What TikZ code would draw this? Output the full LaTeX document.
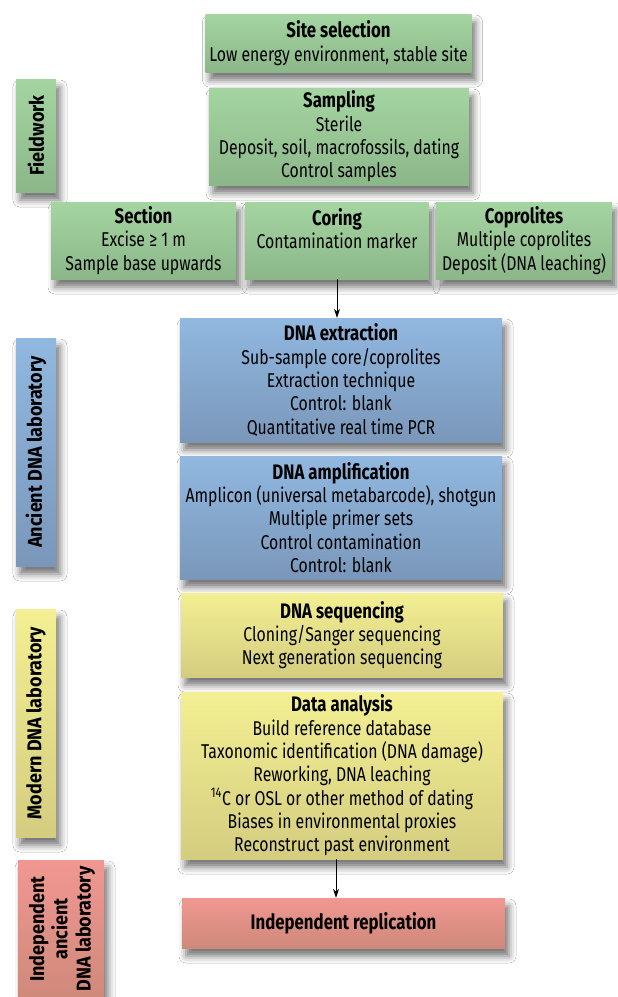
\documentclass[tikz,border=0pt]{standalone}
\usepackage{fontspec}
\setmainfont{Fira Sans}[FakeStretch=0.79]
\newfontfamily\titlefont{Fira Sans}[FakeStretch=0.8]
\newfontfamily\sidefont{Fira Sans}[FakeStretch=0.9]
\usetikzlibrary{shadows.blur,arrows.meta}
\definecolor{gtop}{RGB}{164,213,161}
\definecolor{gbot}{RGB}{140,183,137}
\definecolor{btop}{RGB}{145,184,224}
\definecolor{bbot}{RGB}{122,151,186}
\definecolor{ytop}{RGB}{243,239,146}
\definecolor{ybot}{RGB}{212,205,128}
\definecolor{rtop}{RGB}{241,151,146}
\definecolor{rbot}{RGB}{206,137,121}
\newcommand\boxtitle[1]{{\titlefont\bfseries\fontsize{21}{23.3}\selectfont #1}}
\begin{document}
\begin{tikzpicture}[x=1pt,y=-1pt,
  box/.style={inner sep=0pt, align=center,
    font=\fontsize{20}{23.3}\selectfont,
    blur shadow={shadow xshift=4pt, shadow yshift=-8pt, shadow blur radius=7pt, shadow opacity=55}},
  gbox/.style={box, top color=gtop, bottom color=gbot},
  bbox/.style={box, top color=btop, bottom color=bbot},
  ybox/.style={box, top color=ytop, bottom color=ybot},
  rbox/.style={box, top color=rtop, bottom color=rbot},
  side/.style={rotate=90, font=\sidefont\bfseries\fontsize{20}{23.3}\selectfont, align=center, inner sep=0pt},
  txt/.style={inner sep=0pt, align=center, font=\fontsize{20}{23.3}\selectfont},
  arr/.style={line width=0.9pt, -{Stealth[length=9pt,width=6pt]}}
]
\useasboundingbox[fill=white] (0,0) rectangle (618,997);

% Fieldwork
\node[gbox, minimum width=266pt, minimum height=58pt] (site) at (338.5,43) {\boxtitle{Site selection}\\Low energy environment, stable site};
\node[gbox, minimum width=260pt, minimum height=97pt] (sampling) at (339,136.5) {\boxtitle{Sampling}\\Sterile\\Deposit, soil, macrofossils, dating\\Control samples};
\node[gbox, minimum width=40pt, minimum height=113pt] (fieldwork) at (36,135.5) {};
\node[side] (fieldworktxt) at (fieldwork.center) {Fieldwork};
\node[gbox, minimum width=185pt, minimum height=77pt] (section) at (143.5,240.5) {\boxtitle{Section}\\Excise ≥ 1 m\\Sample base upwards};
\node[gbox, minimum width=184pt, minimum height=77pt] (coring) at (337,240.5) {};
\node[txt] (coringtxt) at (337,228.8) {\boxtitle{Coring}\\Contamination marker};
\node[gbox, minimum width=176pt, minimum height=77pt] (coprolites) at (524,240.5) {\boxtitle{Coprolites}\\Multiple coprolites\\Deposit (DNA leaching)};

% Ancient DNA laboratory
\node[bbox, minimum width=322pt, minimum height=124pt] (extraction) at (341,380) {\boxtitle{DNA extraction}\\Sub-sample core/coprolites\\Extraction technique\\Control: blank\\Quantitative real time PCR};
\node[bbox, minimum width=322pt, minimum height=123pt] (amplification) at (341,517.5) {\boxtitle{DNA amplification}\\Amplicon (universal metabarcode), shotgun\\Multiple primer sets\\Control contamination\\Control: blank};
\node[bbox, minimum width=40pt, minimum height=228pt] (ancient) at (36,452) {};
\node[side] (ancienttxt) at (ancient.center) {Ancient DNA laboratory};

% Modern DNA laboratory
\node[ybox, minimum width=322pt, minimum height=84pt] (sequencing) at (342,635) {\boxtitle{DNA sequencing}\\Cloning/Sanger sequencing\\Next generation sequencing};
\node[ybox, minimum width=322pt, minimum height=167pt] (analysis) at (342,775.5) {\boxtitle{Data analysis}\\Build reference database\\Taxonomic identification (DNA damage)\\Reworking, DNA leaching\\\textsuperscript{14}C or OSL or other method of dating\\Biases in environmental proxies\\Reconstruct past environment};
\node[ybox, minimum width=40pt, minimum height=228pt] (modern) at (36,723) {};
\node[side] (moderntxt) at (modern.center) {Modern DNA laboratory};

% Independent laboratory
\node[rbox, minimum width=86pt, minimum height=142pt] (indep) at (61,931) {};
\node[side] (indeptxt) at (62,929) {Independent\\ancient\\DNA laboratory};
\node[rbox, minimum width=323pt, minimum height=50pt] (replication) at (343.5,923) {\boxtitle{Independent replication}};

% Arrows
\draw[arr] (coring.south) -- (coring.south |- extraction.north);
\coordinate (astart) at ([xshift=-6pt]analysis.south);
\draw[arr] (astart) -- (astart |- replication.north);
\end{tikzpicture}
\end{document}
